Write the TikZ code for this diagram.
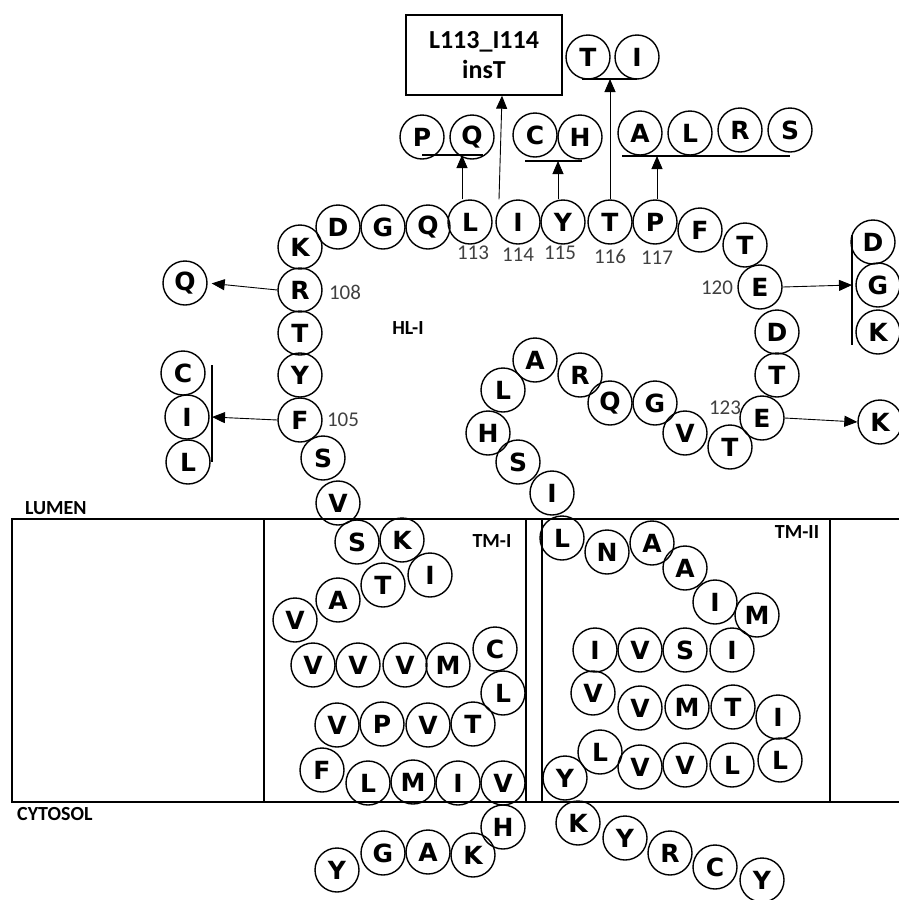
\documentclass[tikz,border=0pt]{standalone}
\usepackage{fontspec}
\setmainfont{Liberation Sans}
\newfontfamily\carl{Carlito}
\newfontfamily\heavy{DejaVu Sans}
\usetikzlibrary{arrows.meta}
\begin{document}
\begin{tikzpicture}[x=1pt,y=-1pt,
  aa/.style={circle,draw,line width=1.4pt,minimum size=44pt,inner sep=0pt,font=\heavy\fontsize{25}{25}\selectfont\bfseries},
  arr/.style={-{Triangle[length=13pt,width=11pt]},line width=0.9pt},
  num/.style={font=\carl\fontsize{21}{21}\selectfont,text=black!75,inner sep=0pt},
  lab/.style={font=\carl\bfseries\fontsize{20}{20}\selectfont,inner sep=0pt},
  bar/.style={line width=1.4pt},
  mem/.style={line width=1.7pt}]
\useasboundingbox (0,0) rectangle (899,900);

% membrane
\draw[mem] (899,519) -- (12,519) -- (12,802) -- (899,802);
\draw[mem] (264,519) rectangle (526,802);
\draw[mem] (542,519) rectangle (830,802);
\node[lab,anchor=west] (lumen) at (25,508) {LUMEN};
\node[lab,anchor=west] (cyto) at (17,814) {CYTOSOL};
\node[lab] (hl) at (408,328) {HL-I};
\node[lab] (tm1) at (492,541) {TM-I};
\node[lab] (tm2) at (797,532) {TM-II};

% TM-I and cytosolic N-terminal part
\node[aa] (t1) at (337,870) {Y};
\node[aa] (t2) at (383,853) {G};
\node[aa] (t3) at (428,852) {A};
\node[aa] (t4) at (473,855) {K};
\node[aa] (t5) at (503,827) {H};
\node[aa] (t6) at (503,783) {V};
\node[aa] (t7) at (458,783) {I};
\node[aa] (t8) at (413,782) {M};
\node[aa] (t9) at (368,783) {L};
\node[aa] (t10) at (322,770) {F};
\node[aa] (t11) at (337,725) {V};
\node[aa] (t12) at (382,724) {P};
\node[aa] (t13) at (428,725) {V};
\node[aa] (t14) at (473,724) {T};
\node[aa] (t15) at (503,693) {L};
\node[aa] (t16) at (495,649) {C};
\node[aa] (t17) at (448,665) {M};
\node[aa] (t18) at (405,665) {V};
\node[aa] (t19) at (358,665) {V};
\node[aa] (t20) at (313,665) {V};
\node[aa] (t21) at (295,620) {V};
\node[aa] (t22) at (338,600) {A};
\node[aa] (t23) at (383,585) {T};
\node[aa] (t24) at (430,575) {I};
\node[aa] (t25) at (402,540) {K};
\node[aa] (t26) at (357,542) {S};
\node[aa] (r103) at (338,503) {V};

% HL-I loop
\node[aa] (r104) at (323,458) {S};
\node[aa] (r105) at (300,420) {F};
\node[aa] (r106) at (300,375) {Y};
\node[aa] (r107) at (300,333) {T};
\node[aa] (r108) at (300,290) {R};
\node[aa] (r109) at (300,247) {K};
\node[aa] (r110) at (338,227) {D};
\node[aa] (r111) at (383,227) {G};
\node[aa] (r112) at (428,227) {Q};
\node[aa] (r113) at (470,222) {L};
\node[aa] (r114) at (518,222) {I};
\node[aa] (r115) at (563,222) {Y};
\node[aa] (r116) at (610,222) {T};
\node[aa] (r117) at (655,222) {P};
\node[aa] (r118) at (700,230) {F};
\node[aa] (r119) at (745,245) {T};
\node[aa] (r120) at (760,287) {E};
\node[aa] (r121) at (777,332) {D};
\node[aa] (r122) at (777,375) {T};
\node[aa] (r123) at (762,418) {E};
\node[aa] (r124) at (730,447) {T};
\node[aa] (r125) at (685,433) {V};
\node[aa] (r126) at (655,403) {G};
\node[aa] (r127) at (610,403) {Q};
\node[aa] (r128) at (580,375) {R};
\node[aa] (r129) at (535,360) {A};
\node[aa] (r130) at (503,390) {L};
\node[aa] (r131) at (488,433) {H};
\node[aa] (r132) at (518,462) {S};
\node[aa] (r133) at (552,493) {I};

% TM-II and cytosolic C-terminal part
\node[aa] (r134) at (562,538) {L};
\node[aa] (r135) at (607,552) {N};
\node[aa] (r136) at (652,543) {A};
\node[aa] (r137) at (685,568) {A};
\node[aa] (r138) at (715,602) {I};
\node[aa] (r139) at (757,615) {M};
\node[aa] (r140) at (732,650) {I};
\node[aa] (r141) at (685,650) {S};
\node[aa] (r142) at (640,650) {V};
\node[aa] (r143) at (595,650) {I};
\node[aa] (r144) at (593,693) {V};
\node[aa] (r145) at (640,708) {V};
\node[aa] (r146) at (687,707) {M};
\node[aa] (r147) at (733,707) {T};
\node[aa] (r148) at (778,717) {I};
\node[aa] (r149) at (780,760) {L};
\node[aa] (r150) at (732,765) {L};
\node[aa] (r151) at (685,765) {V};
\node[aa] (r152) at (640,767) {V};
\node[aa] (r153) at (600,752) {L};
\node[aa] (r154) at (565,778) {Y};
\node[aa] (r155) at (578,823) {K};
\node[aa] (r156) at (625,838) {Y};
\node[aa] (r157) at (670,853) {R};
\node[aa] (r158) at (715,867) {C};
\node[aa] (r159) at (762,880) {Y};

% residue numbers
\node[num] (n105) at (343,420) {105};
\node[num] (n108) at (345,292) {108};
\node[num] (n113) at (473,253) {113};
\node[num] (n114) at (518,255) {114};
\node[num] (n115) at (560,253) {115};
\node[num] (n116) at (610,256) {116};
\node[num] (n117) at (657,258) {117};
\node[num] (n120) at (717,288) {120};
\node[num] (n123) at (725,408) {123};

% variants
\node[aa] (vQ108) at (185,283) {Q};
\node[aa] (vC105) at (183,373) {C};
\node[aa] (vI105) at (187,417) {I};
\node[aa] (vL105) at (188,462) {L};
\node[aa] (vP113) at (422,137) {P};
\node[aa] (vQ113) at (472,137) {Q};
\node[aa] (vC115) at (535,135) {C};
\node[aa] (vH115) at (580,137) {H};
\node[aa] (vT116) at (588,57) {T};
\node[aa] (vI116) at (637,57) {I};
\node[aa] (vA117) at (640,133) {A};
\node[aa] (vL117) at (690,133) {L};
\node[aa] (vR117) at (740,130) {R};
\node[aa] (vS117) at (790,130) {S};
\node[aa] (vD120) at (873,242) {D};
\node[aa] (vG120) at (878,285) {G};
\node[aa] (vK120) at (878,332) {K};
\node[aa] (vK123) at (880,422) {K};

\node[draw,line width=1.4pt,minimum width=156pt,minimum height=80pt,align=center,
  font=\carl\bfseries\fontsize{26}{30}\selectfont] (box) at (484,55) {L113\_I114\\insT};

% underlines and bars
\coordinate (uPQ) at (462,155);
\coordinate (uCH) at (558,161);
\coordinate (uTI) at (610,79);
\coordinate (uA) at (657,156);
\coordinate (bL) at (212,417);
\coordinate (bR) at (852,285);
\draw[bar] (422,155) -- (483,155);
\draw[bar] (525,161) -- (582,161);
\draw[bar] (582,79) -- (637,79);
\draw[bar] (622,156) -- (790,156);
\draw[bar] (212,365) -- (212,462);
\draw[bar] (852,235) -- (852,345);

% arrows
\draw[arr,shorten >=4pt] (r108.west) -- (vQ108.east);
\draw[arr] (r105.west) -- (bL);
\draw[arr] (r113.north -| uPQ) -- (uPQ);
\draw[arr] ([xshift=-19pt]r114.north) -- ([xshift=18pt]box.south);
\draw[arr] (r115.north -| uCH) -- (uCH);
\draw[arr] (r116.north) -- (uTI);
\draw[arr] (r117.north -| uA) -- (uA);
\draw[arr] (r120.east) -- (bR);
\draw[arr] (r123.east) -- (vK123.west);
\end{tikzpicture}
\end{document}
